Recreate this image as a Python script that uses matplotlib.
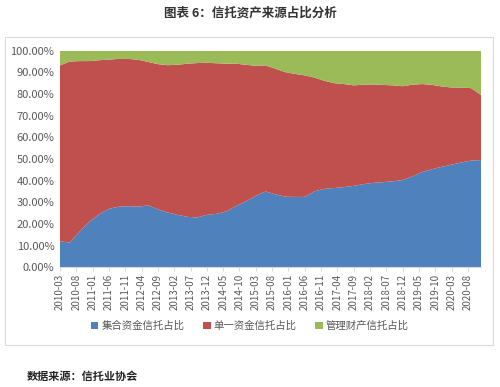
import matplotlib
matplotlib.use("Agg")
import matplotlib.pyplot as plt
from matplotlib.patches import Rectangle, Patch
import numpy as np

plt.rcParams['font.family'] = ['Noto Sans CJK SC', 'DejaVu Sans']

# quarterly data 2010-03 .. 2020-12
start_year, start_month = 2010, 3
n_quarters = 44

jihe = [12.0, 11.4, 16.5, 21.0, 24.5, 27.0, 28.0, 28.2, 28.0, 28.6,
        26.8, 25.3, 24.2, 23.3, 23.0, 24.2, 24.7, 25.8, 28.3, 30.4,
        33.0, 35.0, 33.7, 32.6, 32.5, 32.5, 35.1, 36.2, 36.6, 37.0,
        37.6, 38.4, 39.0, 39.3, 39.7, 40.3, 42.0, 44.0, 45.3, 46.4,
        47.4, 48.4, 49.3, 49.5]
danyi = [81.2, 83.6, 78.7, 74.2, 71.1, 68.9, 68.2, 68.0, 67.8, 66.2,
         67.0, 68.0, 69.3, 70.7, 71.3, 70.2, 69.5, 68.2, 65.7, 63.1,
         60.0, 58.2, 58.0, 57.5, 56.8, 56.1, 52.5, 49.9, 48.4, 47.6,
         46.4, 45.9, 45.4, 44.9, 44.3, 43.3, 42.3, 40.6, 38.9, 37.1,
         35.6, 34.6, 33.4, 30.1]
guanli = [6.8, 5.0, 4.8, 4.8, 4.4, 4.1, 3.8, 3.8, 4.2, 5.2,
          6.2, 6.7, 6.5, 6.0, 5.7, 5.6, 5.8, 6.0, 6.0, 6.5,
          7.0, 6.8, 8.3, 9.9, 10.7, 11.4, 12.4, 13.9, 15.0, 15.4,
          16.0, 15.7, 15.6, 15.8, 16.0, 16.4, 15.7, 15.4, 15.8, 16.5,
          17.0, 17.0, 17.3, 20.4]
series_names = ['集合资金信托占比', '单一资金信托占比', '管理财产信托占比']
colors = ['#4F81BD', '#C0504D', '#9BBB59']

# month offsets (date axis)
months = np.arange(n_quarters) * 3
tick_months = np.arange(0, 126, 5)
tick_labels = []
for m in tick_months:
    y = start_year + (start_month - 1 + m) // 12
    mo = (start_month - 1 + m) % 12 + 1
    tick_labels.append(f"{y}-{mo:02d}")

W, H = 500, 387
fig = plt.figure(figsize=(W / 100, H / 100), dpi=100)

# outer chart border
fig.patches.append(Rectangle((5 / W, 1 - 345 / H), 488 / W, 308 / H,
                             transform=fig.transFigure, fill=False,
                             edgecolor='#D9D9D9', linewidth=0.8))

ax = fig.add_axes([60 / W, 1 - 267.3 / H, 421 / W, 216.6 / H])
tot = np.array(jihe) + np.array(danyi) + np.array(guanli)
vals = [np.array(s) / tot for s in (jihe, danyi, guanli)]
ax.stackplot(months, *vals, colors=colors, linewidth=0)
ax.set_xlim(months[0], months[-1])
ax.set_ylim(0, 1)
ax.set_yticks(np.arange(0, 1.01, 0.1))
ax.set_yticklabels([f"{v:.2f}%" for v in np.arange(0, 100.1, 10)],
                   fontsize=8, color='#595959')
ax.set_xticks(tick_months)
ax.set_xticklabels(tick_labels, rotation=90, fontsize=7, color='#595959')
for s in ['top', 'right', 'left']:
    ax.spines[s].set_visible(False)
ax.spines['bottom'].set_color('#D9D9D9')
ax.tick_params(axis='y', length=0, pad=4)
ax.tick_params(axis='x', length=3, color='#D9D9D9', pad=2)

fig.text(0.5, 1 - 13 / H, '图表 6：信托资产来源占比分析', ha='center', va='center',
         fontsize=9, fontweight='bold', color='#333333')

handles = [Patch(facecolor=c, edgecolor='none') for c in colors]
fig.legend(handles, series_names, loc='center', bbox_to_anchor=(0.5, 1 - 326 / H),
           ncol=3, frameon=False, fontsize=7.5, handlelength=0.7, handleheight=0.7,
           handletextpad=0.3, columnspacing=1.8, labelcolor='#595959')

fig.text(27 / W, 1 - 376 / H, '数据来源：信托业协会', ha='left', va='center',
         fontsize=8, fontweight='bold', color='#222222')

fig.savefig('out.png', dpi=100)
